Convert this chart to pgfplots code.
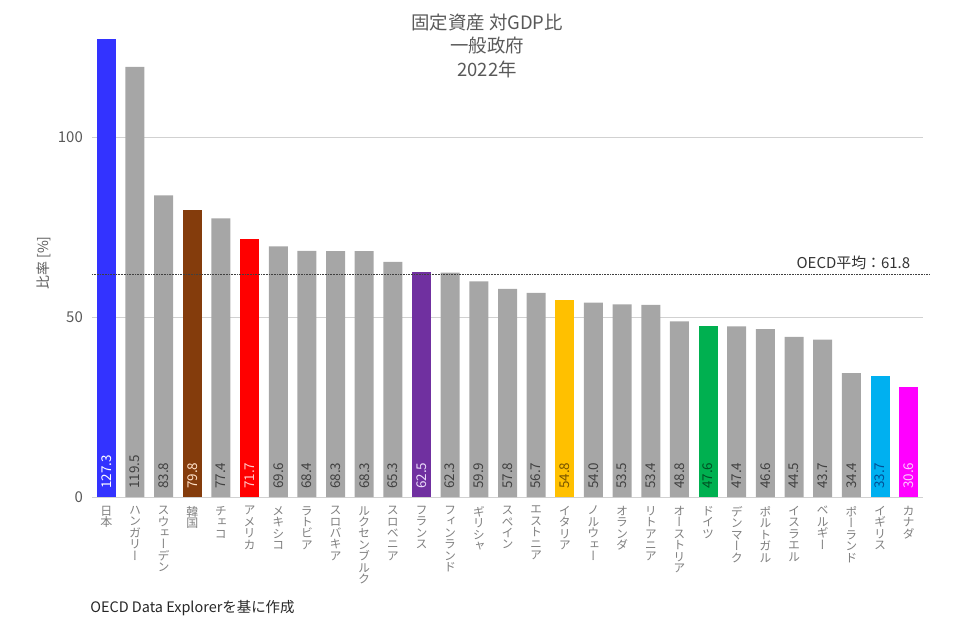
\documentclass[border=0pt]{standalone}
\usepackage{pgfplots}
\pgfplotsset{compat=1.18}
\usepackage{fontspec}
\setmainfont{Noto Sans CJK JP}
\newfontfamily\vjp[RawFeature=+vert]{Noto Sans CJK JP}
\definecolor{txt}{HTML}{595959}
\definecolor{lbl}{HTML}{7F7F7F}
\definecolor{cgray}{HTML}{A6A6A6}
\definecolor{cjp}{HTML}{3333FF}
\definecolor{ckr}{HTML}{843C0C}
\definecolor{cus}{HTML}{FF0000}
\definecolor{cfr}{HTML}{7030A0}
\definecolor{cit}{HTML}{FFC000}
\definecolor{cde}{HTML}{00B050}
\definecolor{cuk}{HTML}{00B0F0}
\definecolor{cca}{HTML}{FF00FF}
\begin{document}
\begin{tikzpicture}
\begin{axis}[
  at={(0,0)}, anchor=south west,
  scale only axis, width=831bp, height=460.8bp,
  xmin=-0.5, xmax=28.5, ymin=0, ymax=128,
  ybar, bar width=19bp,
  every axis plot/.append style={bar shift=0pt},
  clip=false,
  axis x line*=bottom, axis y line*=left,
  x axis line style={draw=black!18,-},
  y axis line style={draw=none},
  major tick length=0pt,
  ymajorgrids, grid style={black!18, line width=0.6pt},
  ytick={0,50,100},
  yticklabel style={font=\fontsize{15}{15}\selectfont, text=txt, inner sep=0pt, xshift=-9bp},
  /pgf/number format/assume math mode=true,
  xtick={0,...,28},
  xticklabels={
    {日\\本},{ハ\\ン\\ガ\\リ\\ー},{ス\\ウ\\ェ\\ー\\デ\\ン},{韓\\国},{チ\\ェ\\コ},
    {ア\\メ\\リ\\カ},{メ\\キ\\シ\\コ},{ラ\\ト\\ビ\\ア},{ス\\ロ\\バ\\キ\\ア},
    {ル\\ク\\セ\\ン\\ブ\\ル\\ク},{ス\\ロ\\ベ\\ニ\\ア},{フ\\ラ\\ン\\ス},
    {フ\\ィ\\ン\\ラ\\ン\\ド},{ギ\\リ\\シ\\ャ},{ス\\ペ\\イ\\ン},{エ\\ス\\ト\\ニ\\ア},
    {イ\\タ\\リ\\ア},{ノ\\ル\\ウ\\ェ\\ー},{オ\\ラ\\ン\\ダ},{リ\\ト\\ア\\ニ\\ア},
    {オ\\ー\\ス\\ト\\リ\\ア},{ド\\イ\\ツ},{デ\\ン\\マ\\ー\\ク},{ポ\\ル\\ト\\ガ\\ル},
    {イ\\ス\\ラ\\エ\\ル},{ベ\\ル\\ギ\\ー},{ポ\\ー\\ラ\\ン\\ド},{イ\\ギ\\リ\\ス},{カ\\ナ\\ダ}},
  xticklabel style={anchor=north, align=center, inner sep=0pt, yshift=-9bp,
    font={\vjp\fontsize{12}{11.5}\selectfont\lineskiplimit=-20pt}, text=lbl},
  nodes near coords style={rotate=90, anchor=west, inner sep=0pt, inner xsep=8bp,
    font=\fontsize{13.5}{13.5}\selectfont},
]
% bars
\addplot[fill=cjp, draw=none] coordinates {(0,127.3)};
\addplot[fill=cgray, draw=none] coordinates {
 (1,119.5)(2,83.8)(4,77.4)(6,69.6)(7,68.4)(8,68.3)(9,68.3)(10,65.3)
 (12,62.3)(13,59.9)(14,57.8)(15,56.7)(17,54.0)(18,53.5)(19,53.4)(20,48.8)
 (22,47.4)(23,46.6)(24,44.5)(25,43.7)(26,34.4)};
\addplot[fill=ckr, draw=none] coordinates {(3,79.8)};
\addplot[fill=cus, draw=none] coordinates {(5,71.7)};
\addplot[fill=cfr, draw=none] coordinates {(11,62.5)};
\addplot[fill=cit, draw=none] coordinates {(16,54.8)};
\addplot[fill=cde, draw=none] coordinates {(21,47.6)};
\addplot[fill=cuk, draw=none] coordinates {(27,33.7)};
\addplot[fill=cca, draw=none] coordinates {(28,30.6)};
% value labels at base
\addplot[draw=none, fill=none, nodes near coords, point meta=explicit symbolic,
  every node near coord/.append style={text=white}] coordinates {(0,0)[127.3]};
\addplot[draw=none, fill=none, nodes near coords, point meta=explicit symbolic,
  every node near coord/.append style={text=black!75}] coordinates {
 (1,0)[119.5](2,0)[83.8](4,0)[77.4](6,0)[69.6](7,0)[68.4](8,0)[68.3](9,0)[68.3](10,0)[65.3]
 (12,0)[62.3](13,0)[59.9](14,0)[57.8](15,0)[56.7](17,0)[54.0](18,0)[53.5](19,0)[53.4](20,0)[48.8]
 (22,0)[47.4](23,0)[46.6](24,0)[44.5](25,0)[43.7](26,0)[34.4]};
\addplot[draw=none, fill=none, nodes near coords, point meta=explicit symbolic,
  every node near coord/.append style={text={rgb,255:red,255;green,225;blue,200}}] coordinates {(3,0)[79.8]};
\addplot[draw=none, fill=none, nodes near coords, point meta=explicit symbolic,
  every node near coord/.append style={text={rgb,255:red,255;green,200;blue,200}}] coordinates {(5,0)[71.7]};
\addplot[draw=none, fill=none, nodes near coords, point meta=explicit symbolic,
  every node near coord/.append style={text={rgb,255:red,235;green,220;blue,250}}] coordinates {(11,0)[62.5]};
\addplot[draw=none, fill=none, nodes near coords, point meta=explicit symbolic,
  every node near coord/.append style={text={rgb,255:red,120;green,85;blue,0}}] coordinates {(16,0)[54.8]};
\addplot[draw=none, fill=none, nodes near coords, point meta=explicit symbolic,
  every node near coord/.append style={text={rgb,255:red,0;green,80;blue,35}}] coordinates {(21,0)[47.6]};
\addplot[draw=none, fill=none, nodes near coords, point meta=explicit symbolic,
  every node near coord/.append style={text={rgb,255:red,0;green,80;blue,150}}] coordinates {(27,0)[33.7]};
\addplot[draw=none, fill=none, nodes near coords, point meta=explicit symbolic,
  every node near coord/.append style={text={rgb,255:red,255;green,200;blue,255}}] coordinates {(28,0)[30.6]};
% OECD average
\addplot[sharp plot, draw=black!75, densely dotted, line width=0.6pt, fill=none] coordinates {(-0.5,61.8)(28.75,61.8)};
\node[anchor=east, inner sep=0pt, text=black!80, font=\fontsize{15}{15}\selectfont] at (axis cs:28.06,65) {OECD平均：61.8};
% y label
\node[rotate=90, inner sep=0pt, text=txt, font=\fontsize{14}{14}\selectfont] at (axis cs:-2.17,65) {比率 [\%]};
% title
\node[align=center, inner sep=0pt, text=txt, font={\fontsize{18.5}{24}\selectfont}] at (axis cs:13.29,125.3) {固定資産 対GDP比\\一般政府\\2022年};
% source
\node[anchor=west, inner sep=0pt, text=black!85, font=\fontsize{14.5}{14.5}\selectfont] at (axis cs:-0.565,-30.8) {OECD Data Explorerを基に作成};
\end{axis}
\pgfresetboundingbox
\path (-92bp,-139bp) rectangle (883bp,497bp);
\end{tikzpicture}
\end{document}
